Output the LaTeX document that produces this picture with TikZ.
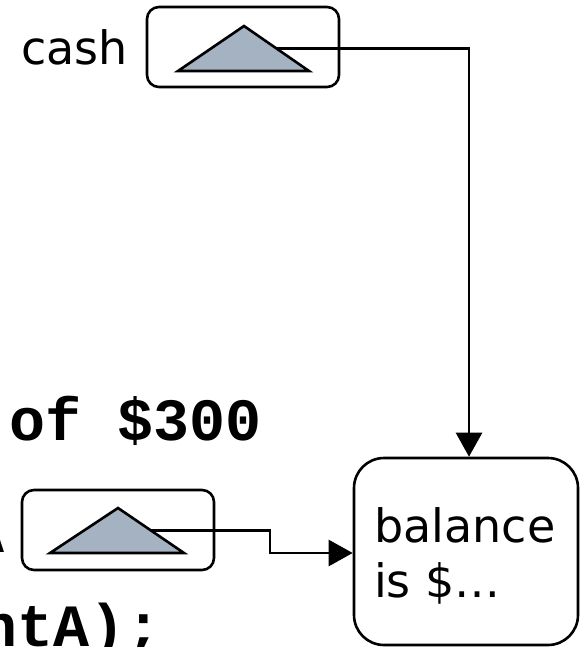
\documentclass[tikz,border=0pt]{standalone}
\usepackage{fontspec}
\setmainfont{DejaVu Sans}
\setmonofont{Liberation Mono}
\usetikzlibrary{arrows.meta,calc}
\definecolor{ptrfill}{RGB}{164,178,194}
\begin{document}
\begin{tikzpicture}[x=1pt,y=-1pt,
  varbox/.style={draw,line width=2.6pt,rounded corners=12pt,inner sep=0pt},
  objbox/.style={draw,line width=2.6pt,rounded corners=30pt,inner sep=0pt},
  ptr/.style={draw,line width=2.6pt,fill=ptrfill,line join=miter},
  link/.style={line width=2.6pt,-{Triangle[length=24pt,width=26pt]}},
  lbl/.style={inner sep=0pt,font=\fontsize{46}{55}\selectfont},
  code/.style={inner sep=0pt,font=\fontsize{60}{66}\selectfont\ttfamily\bfseries}]
\useasboundingbox (0,0) rectangle (580,647);

% the object the two references point at
\node[objbox,minimum width=224pt,minimum height=187pt] (bal) at (466,551.5) {};
\node[lbl,anchor=base west] (baltxt) at (374,542) {balance};
\node[lbl,anchor=base west] (baltxt2) at (374,597) {is \$\dots};

% reference variable "cash"
\node[lbl,anchor=base west] (cash) at (21,65) {cash};
\node[varbox,minimum width=192pt,minimum height=80pt] (cashbox) at (243,47) {};
\coordinate (c1a) at (244,26);
\coordinate (c1l) at (178,71);
\coordinate (c1r) at (309,71);
\path[ptr] (c1a) -- (c1l) -- (c1r) -- cycle;
\coordinate (c1m) at ($(c1a)!0.5!(c1r)$);
\coordinate (drop) at (469,0);

% reference variable of the second account
\node[varbox,minimum width=192pt,minimum height=80pt] (accbox) at (118,530) {};
\coordinate (a1a) at (118,508);
\coordinate (a1l) at (50,553);
\coordinate (a1r) at (184,553);
\path[ptr] (a1a) -- (a1l) -- (a1r) -- cycle;
\coordinate (a1m) at ($(a1a)!0.5!(a1r)$);
\coordinate (bend) at (270,0);

% partly visible code lines
\node[code,anchor=base west] (line1) at (9,440) {of \$300};
\node[code,anchor=base east] (line2) at (5,552) {A};
\node[code,anchor=base west] (line3) at (-19,646) {ntA);};

% references
\draw[link] (c1m) -| (drop |- bal.north);
\draw[link] (a1m) -| (bend |- a1r) -- (a1r -| bal.west);
\end{tikzpicture}
\end{document}
